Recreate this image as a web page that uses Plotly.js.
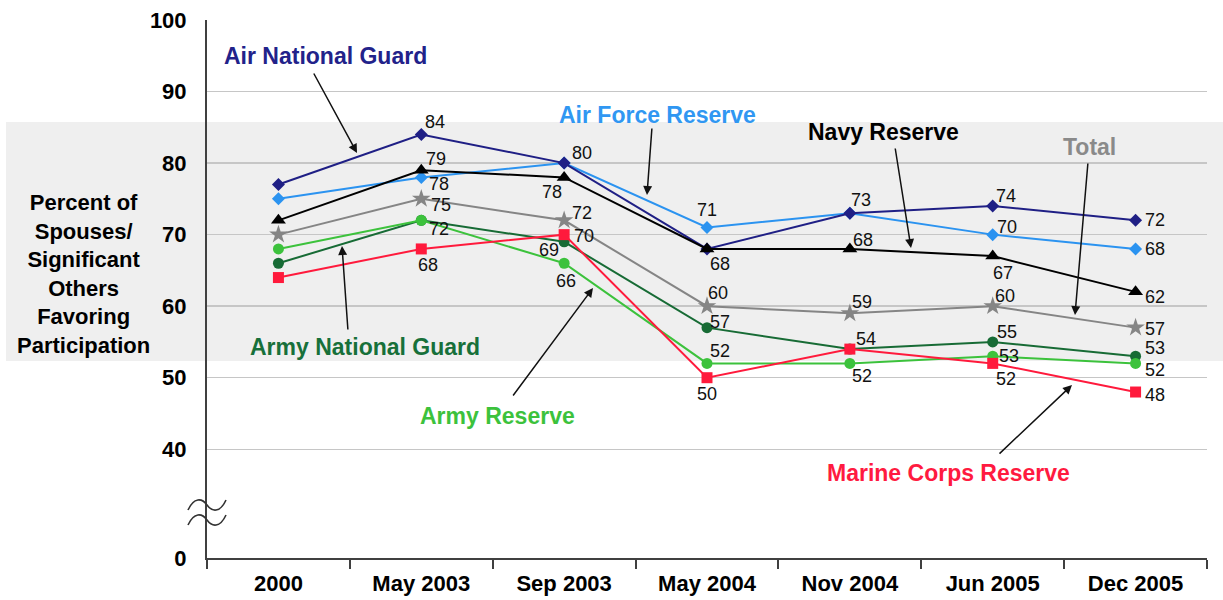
<!DOCTYPE html>
<html><head><meta charset="utf-8">
<script src="https://cdn.plot.ly/plotly-3.0.1.min.js"></script>
<style>html,body{margin:0;padding:0;background:#fff}#chart{width:1223px;height:600px}</style>
</head><body><div id="chart"></div>
<script>
// ---------- data ----------
const categories = ['2000','May 2003','Sep 2003','May 2004','Nov 2004','Jun 2005','Dec 2005'];
const airNationalGuard   = [77,84,80,68,73,74,72];
const airForceReserve    = [75,78,80,71,73,70,68];
const navyReserve        = [72,79,78,68,68,67,62];
const total              = [70,75,72,60,59,60,57];
const armyReserve        = [68,72,66,52,52,53,52];
const armyNationalGuard  = [66,72,69,57,54,55,53];
const marineCorpsReserve = [64,68,70,50,54,52,48];
const yTickLabels = ['0','40','50','60','70','80','90','100'];
const yTickValues = [0,40,50,60,70,80,90,100];
const yAxisTitleLines = ['Percent of','Spouses/','Significant','Others','Favoring','Participation'];

// ---------- styles / layout helpers ----------
const FONT = 'Liberation Sans, Arial, sans-serif';
const BREAK_ZERO = 24.8; // where "0" sits on the broken axis
const PL = 207, PT = 20, PW = 1000, PH = 538;
const px = x => (x - PL) / PW;
const py = y => (PT + PH - y) / PH;

const series = [
  {name:'Total', data: total, color:'#858585', symbol:'star', size:14,
   off:[[-24,0],[20,6],[18,-7],[11,-13],[12,-11],[12,-10],[19,1]]},
  {name:'Army National Guard', data: armyNationalGuard, color:'#176b35', symbol:'circle', size:11,
   off:[[-24,6],[18,9],[-15,8],[13,-6],null,[14,-10],[19,-8]]},
  {name:'Army Reserve', data: armyReserve, color:'#3cc23c', symbol:'circle', size:11,
   off:[[-24,3],null,[2,18],[13,-12],[12,13],[16,0],[19,7]]},
  {name:'Air Force Reserve', data: airForceReserve, color:'#2b93f0', symbol:'diamond', size:10,
   off:[[-23,-3],[18,7],[18,-10],[0,-17],null,[14,-8],[19,0]]},
  {name:'Air National Guard', data: airNationalGuard, color:'#1f1f85', symbol:'diamond', size:10,
   off:[[-17,-13],[14,-12],null,null,[11,-13],[13,-10],[19,0]]},
  {name:'Navy Reserve', data: navyReserve, color:'#000000', symbol:'triangle-up', size:13,
   off:[[-24,-4],[15,-11],[-12,15],[13,15],[13,-9],[10,17],[19,5]]},
  {name:'Marine Corps Reserve', data: marineCorpsReserve, color:'#ff1a3c', symbol:'square', size:11,
   off:[[-18,14],[7,16],[20,1.5],[0,16],[16,-10],[13,16],[19,3]]}
];

const traces = series.map(s => ({
  type:'scatter', mode:'lines+markers', name:s.name,
  x: categories, y: s.data,
  line:{color:s.color, width:2},
  marker:{color:s.color, symbol:s.symbol, size:s.size, line:{width:0}},
  hoverinfo:'skip', cliponaxis:false
}));

const annotations = [];
// data labels
series.forEach(s => {
  s.data.forEach((v,i) => {
    const o = s.off[i];
    if (!o) return;
    annotations.push({x: categories[i], y: v, xref:'x', yref:'y', text: String(v),
      showarrow:false, xanchor:'center', yanchor:'middle', xshift:o[0], yshift:-o[1],
      font:{family:FONT, size:18, color:'#111'}});
  });
});

// series name labels (pixel centers) and arrows
const callouts = [
  {text:'Air National Guard', color:'#22228a', c:[325,56], tail:[313,72], tip:[357,153]},
  {text:'Air Force Reserve', color:'#3097f2', c:[657,115], tail:[652,127], tip:[647,195]},
  {text:'Navy Reserve', color:'#000000', c:[883,132], tail:[895,147], tip:[911,248]},
  {text:'Total', color:'#8a8a8a', c:[1089,147], tail:[1088,162], tip:[1075,315]},
  {text:'Army National Guard', color:'#17703a', c:[365,347], tail:[348,331], tip:[342,246]},
  {text:'Army Reserve', color:'#3cc23c', c:[497,416], tail:[512,397], tip:[593,288]},
  {text:'Marine Corps Reserve', color:'#ff1a40', c:[948,473], tail:[998,455], tip:[1072,385]}
];
callouts.forEach(c => {
  annotations.push({x:px(c.c[0]), y:py(c.c[1]), xref:'paper', yref:'paper', text:'<b>'+c.text+'</b>',
    showarrow:false, xanchor:'center', yanchor:'middle',
    font:{family:FONT, size:23, color:c.color}});
  annotations.push({x:px(c.tip[0]), y:py(c.tip[1]), xref:'paper', yref:'paper', text:'',
    showarrow:true, arrowhead:2, arrowsize:1.2, arrowwidth:1.5, arrowcolor:'#111',
    ax:c.tail[0]-c.tip[0], ay:c.tail[1]-c.tip[1], standoff:0, startstandoff:0});
});

// y axis title
annotations.push({x:px(83), y:py(274), xref:'paper', yref:'paper',
  text:'<b>'+yAxisTitleLines.join('<br>')+'</b>', showarrow:false,
  xanchor:'center', yanchor:'middle', align:'center',
  font:{family:FONT, size:22, color:'#000'}});

// axis break symbol
function tilde(dy){
  const P = (x,y) => px(x)+','+py(y+dy);
  return 'M '+P(188,510)+' C '+P(194,497)+' '+P(202,498)+' '+P(207,505)+
         ' S '+P(220,513)+' '+P(226,500);
}

const shapes = [
  {type:'rect', xref:'paper', yref:'paper', x0:px(6), x1:px(1223), y0:py(361), y1:py(122),
   fillcolor:'#efefef', line:{width:0}, layer:'below'},
  {type:'path', xref:'paper', yref:'paper', path:tilde(0), line:{color:'#333', width:1.6}},
  {type:'path', xref:'paper', yref:'paper', path:tilde(15), line:{color:'#333', width:1.6}}
];

const layout = {
  width:1223, height:600,
  margin:{l:PL, r:1223-PL-PW, t:PT, b:600-PT-PH, pad:0},
  paper_bgcolor:'#ffffff', plot_bgcolor:'rgba(0,0,0,0)',
  showlegend:false,
  font:{family:FONT},
  xaxis:{type:'category', categoryorder:'array', categoryarray:categories,
    range:[-0.5, 6.5], showgrid:false, zeroline:false,
    showline:true, linecolor:'#404040', linewidth:2,
    ticks:'outside', tickson:'boundaries', ticklen:9, tickwidth:2, tickcolor:'#404040',
    tickfont:{family:FONT, size:22, color:'#000', weight:'bold'},
    ticklabelstandoff:5, fixedrange:true},
  yaxis:{range:[BREAK_ZERO, 100], tickmode:'array',
    tickvals: yTickValues.map(v => v === 0 ? BREAK_ZERO : v), ticktext: yTickLabels,
    showgrid:true, gridcolor:'#c6c6c6', gridwidth:1.5, zeroline:false,
    showline:true, linecolor:'#404040', linewidth:2, ticks:'',
    tickfont:{family:FONT, size:22, color:'#000', weight:'bold'},
    ticklabelstandoff:14, fixedrange:true},
  annotations: annotations,
  shapes: shapes
};

Plotly.newPlot('chart', traces, layout, {staticPlot:true, displayModeBar:false});
</script>
</body></html>
